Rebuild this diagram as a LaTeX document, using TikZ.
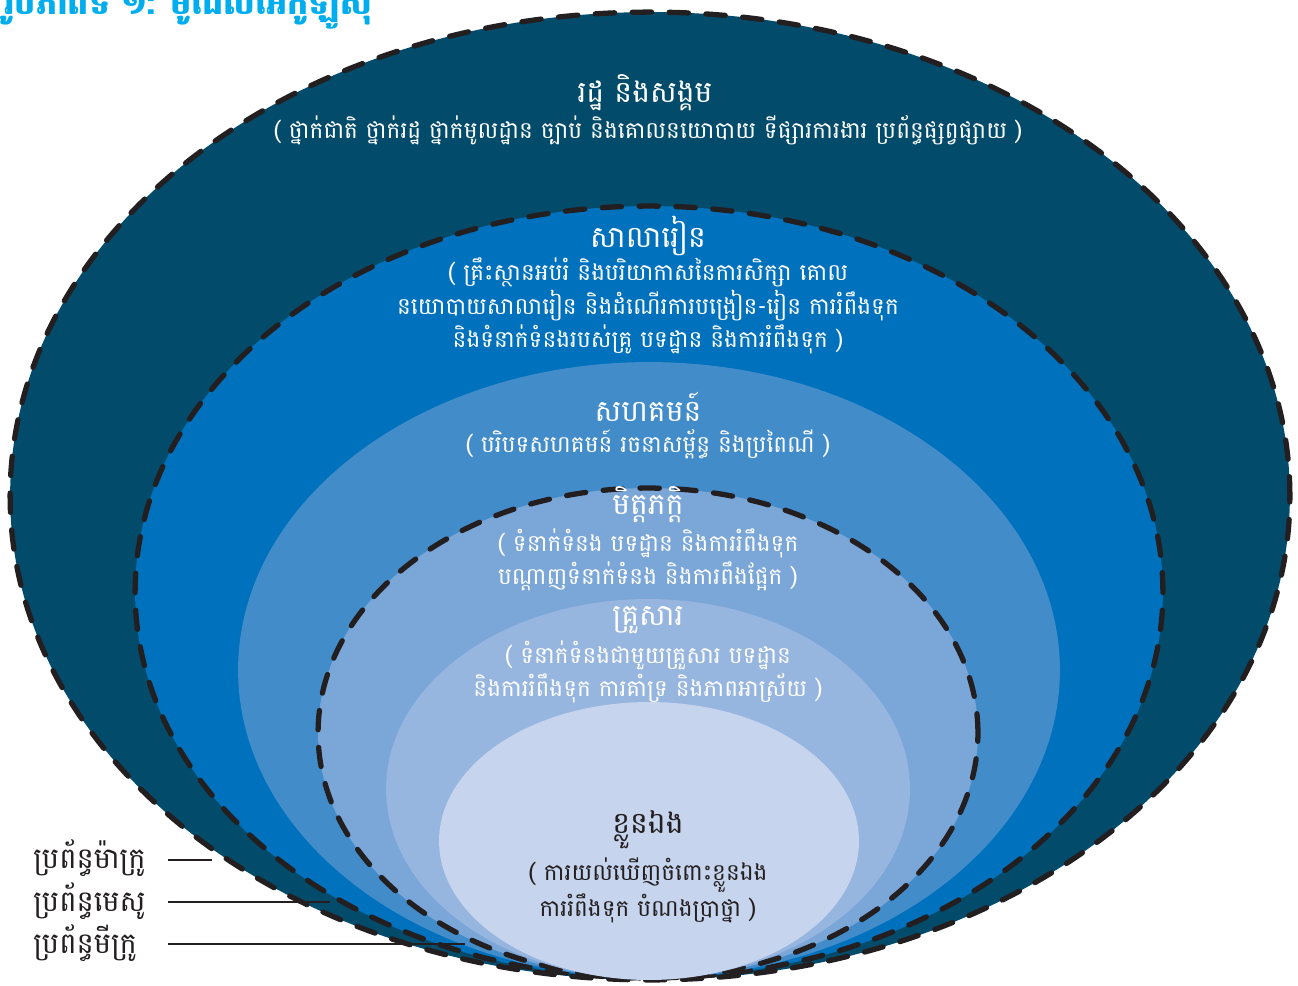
\documentclass[tikz,border=0pt]{standalone}
\usepackage{fontspec}
\setmainfont[Script=Khmer]{Battambang}
\definecolor{ringmacro}{HTML}{034B6B}
\definecolor{ringschool}{HTML}{0071BC}
\definecolor{ringcommun}{HTML}{438CCA}
\definecolor{ringpeers}{HTML}{7BA6D8}
\definecolor{ringfamily}{HTML}{97B6DF}
\definecolor{ringself}{HTML}{C6D4ED}
\definecolor{linegray}{HTML}{231F20}
\definecolor{titlecyan}{HTML}{00AEEF}

\begin{document}
\begin{tikzpicture}[x=0.02cm,y=-0.02cm,
        dashring/.style={draw=linegray,line width=3pt,line cap=round,dash pattern=on 11pt off 10pt},
        head/.style={text=white,inner sep=1pt,font=\fontsize{17}{20}\selectfont},
        desc/.style={text=white,align=center,inner sep=1pt,font=\fontsize{13.2}{19}\selectfont},
        syslabel/.style={anchor=west,text=linegray,inner sep=0pt,font=\fontsize{16.5}{18}\selectfont}]

    \useasboundingbox (0,0) rectangle (1298,985);

    % rings, outer to inner
    \fill[ringmacro] (650,496) ellipse [x radius=12.8cm, y radius=9.68cm];
    \draw[dashring] (650,496) ellipse [x radius=12.8cm, y radius=9.68cm];
    \fill[ringschool] (649,592) ellipse [x radius=10.28cm, y radius=7.72cm];
    \draw[dashring] (649,592) ellipse [x radius=10.28cm, y radius=7.72cm];
    \fill[ringcommun] (649,670) ellipse [x radius=8.22cm, y radius=6.16cm];
    \fill[ringpeers] (648,733) ellipse [x radius=6.6cm, y radius=4.9cm];
    \draw[dashring] (648,733) ellipse [x radius=6.6cm, y radius=4.9cm];
    \fill[ringfamily] (648,789) ellipse [x radius=5.24cm, y radius=3.8cm];
    \fill[ringself] (649,841) ellipse [x radius=4.2cm, y radius=2.78cm];

    \node[anchor=base west,text=titlecyan,inner sep=0pt,font=\bfseries\fontsize{19}{20}\selectfont] (title) at (4,14) {រូបភាពទី ១: ម៉ូដែលអេកូឡូស៊ី};

    % state and society
    \node[head] (stateh) at (645,93) {រដ្ឋ និងសង្គម};
    \node[desc] (stated) at (648,130) {( ថ្នាក់ជាតិ ថ្នាក់រដ្ឋ ថ្នាក់មូលដ្ឋាន ច្បាប់ និងគោលនយោបាយ ទីផ្សារការងារ ប្រព័ន្ធផ្សព្វផ្សាយ )};
    % school
    \node[head] (schoolh) at (648,236) {សាលារៀន};
    \node[desc] (schoold) at (648,306) {( គ្រឹះស្ថានអប់រំ និងបរិយាកាសនៃការសិក្សា គោល\\
        នយោបាយសាលារៀន និងដំណើរការបង្រៀន-រៀន ការរំពឹងទុក\\
        និងទំនាក់ទំនងរបស់គ្រូ បទដ្ឋាន និងការរំពឹងទុក )};
    % community
    \node[head] (communh) at (648,407) {សហគមន៍};
    \node[desc] (commun) at (648,444) {( បរិបទសហគមន៍ រចនាសម្ព័ន្ធ និងប្រពៃណី )};
    % peers
    \node[head] (peersh) at (648,505) {មិត្តភក្តិ};
    \node[desc] (peersd) at (648,560) {( ទំនាក់ទំនង បទដ្ឋាន និងការរំពឹងទុក\\
        បណ្តាញទំនាក់ទំនង និងការពឹងផ្អែក )};
    % family
    \node[head] (familyh) at (648,620) {គ្រួសារ};
    \node[desc] (familyd) at (648,672) {( ទំនាក់ទំនងជាមួយគ្រួសារ បទដ្ឋាន\\
        និងការរំពឹងទុក ការគាំទ្រ និងភាពអាស្រ័យ )};
    % self
    \node[head,text=linegray] (selfh) at (648,830) {ខ្លួនឯង};
    \node[desc,text=linegray] (selfd) at (648,890) {( ការយល់ឃើញចំពោះខ្លួនឯង\\
        ការរំពឹងទុក បំណងប្រាថ្នា )};

    % system labels
    \node[syslabel] (macsys) at (33,858) {ប្រព័ន្ធម៉ាក្រូ};
    \node[syslabel] (messys) at (33,901) {ប្រព័ន្ធមេសូ};
    \node[syslabel] (micsys) at (33,943) {ប្រព័ន្ធមីក្រូ};
    \coordinate (macend) at (212,860);
    \coordinate (mesend) at (330,902);
    \coordinate (micend) at (465,944);
    \draw[linegray,line width=0.8pt] (168,860) -- (macend);
    \draw[linegray,line width=0.8pt] (168,902) -- (mesend);
    \draw[linegray,line width=0.8pt] (168,944) -- (micend);
\end{tikzpicture}
\end{document}
